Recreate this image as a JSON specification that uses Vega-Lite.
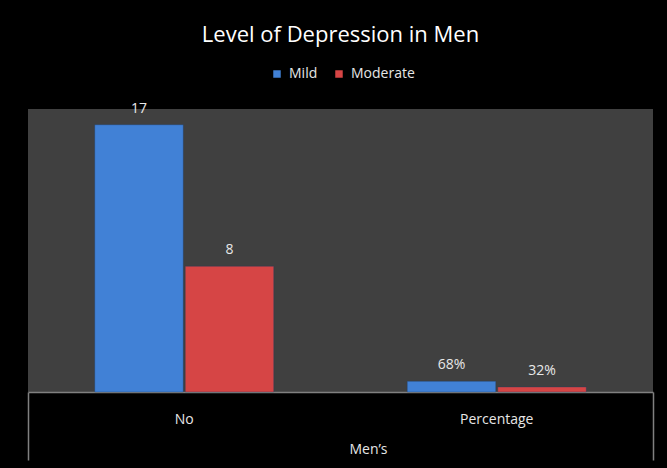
{
  "$schema": "https://vega.github.io/schema/vega-lite/v6.json",
  "width": 625,
  "height": 283,
  "autosize": {"type": "none"},
  "padding": {"left": 28, "top": 109, "right": 14, "bottom": 76},
  "background": "#000000",
  "title": {
    "text": "Level of Depression in Men",
    "color": "#ffffff",
    "font": "Open Sans",
    "fontSize": 22,
    "fontWeight": "normal",
    "anchor": "middle",
    "offset": 20
  },
  "data": {
    "values": [
      {"group": "No", "level": "Mild", "value": 17, "label": "17"},
      {"group": "No", "level": "Moderate", "value": 8, "label": "8"},
      {"group": "Percentage", "level": "Mild", "value": 0.68, "label": "68%"},
      {"group": "Percentage", "level": "Moderate", "value": 0.32, "label": "32%"}
    ]
  },
  "encoding": {
    "x": {
      "field": "group",
      "type": "nominal",
      "sort": ["No", "Percentage"],
      "title": "Men’s",
      "scale": {"paddingInner": 0, "paddingOuter": 0},
      "axis": {
        "labelAngle": 0,
        "bandPosition": 1,
        "tickExtra": true,
        "tickSize": 68,
        "tickWidth": 1.5,
        "tickColor": {
          "condition": {"test": "datum.value === 'No'", "value": "transparent"},
          "value": "#808080"
        },
        "domainColor": "#808080",
        "domainWidth": 1.5,
        "labelPadding": -48,
        "labelColor": "#e6e6e6",
        "labelFont": "Open Sans",
        "labelFontSize": 14,
        "titleColor": "#e6e6e6",
        "titleFont": "Open Sans",
        "titleFontSize": 14,
        "titleFontWeight": "normal",
        "titleX": 340,
        "titleY": 57,
        "titleBaseline": "middle"
      }
    },
    "xOffset": {
      "field": "level",
      "type": "nominal",
      "sort": ["Mild", "Moderate"],
      "scale": {"paddingInner": 0.022, "paddingOuter": 0.7375}
    },
    "y": {
      "field": "value",
      "type": "quantitative",
      "scale": {"domain": [0, 18]},
      "axis": null
    }
  },
  "layer": [
    {
      "mark": {"type": "bar", "stroke": "#1f3f66", "strokeWidth": 0.6, "strokeOpacity": 0.6},
      "encoding": {
        "color": {
          "field": "level",
          "type": "nominal",
          "scale": {"domain": ["Mild", "Moderate"], "range": ["#4181d6", "#d64545"]},
          "legend": {
            "orient": "none",
            "legendX": 242,
            "legendY": -42,
            "direction": "horizontal",
            "title": null,
            "symbolType": "square",
            "symbolSize": 56,
            "symbolStrokeWidth": 0,
            "labelColor": "#e6e6e6",
            "labelFont": "Open Sans",
            "labelFontSize": 14,
            "labelOffset": 5,
            "columnPadding": 14
          }
        }
      }
    },
    {
      "mark": {
        "type": "text",
        "dy": -16,
        "baseline": "middle",
        "color": "#e8e8e8",
        "font": "Open Sans",
        "fontSize": 14
      },
      "encoding": {"text": {"field": "label"}}
    }
  ],
  "config": {"view": {"fill": "#404040", "stroke": null}}
}
